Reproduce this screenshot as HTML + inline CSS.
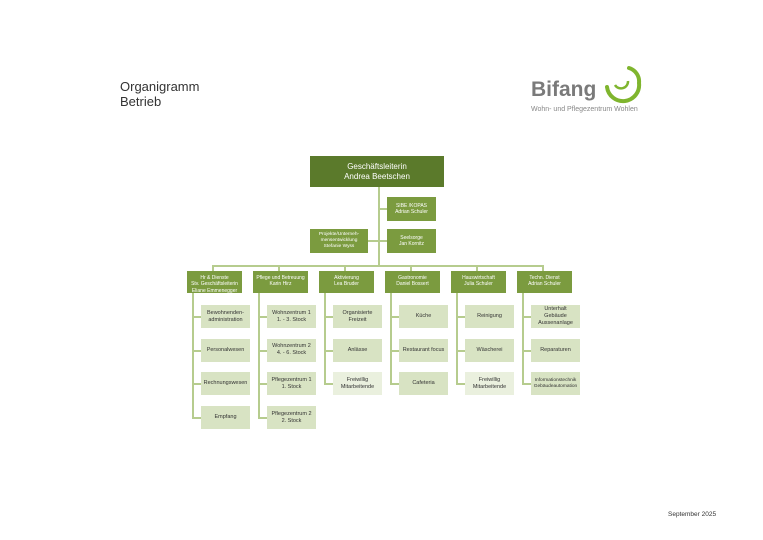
<!DOCTYPE html>
<html><head><meta charset="utf-8"><style>
body{margin:0;width:763px;height:540px;background:#fff;position:relative;overflow:hidden;font-family:"Liberation Sans",sans-serif}
.a{position:absolute}
.b{position:absolute;display:flex;align-items:center;justify-content:center;text-align:center;line-height:1.25}
.d{background:#5b7a2b;color:#fff}
.m{background:#7b9b3f;color:#fff;font-size:5px;align-items:flex-start;padding-top:4px;box-sizing:border-box}
.s{background:#7b9b3f;color:#fff;font-size:5px}
.c{background:#d8e3c3;color:#333;font-size:5.5px}
.f{background:#eaf0de;color:#333;font-size:5.5px}
.l{position:absolute;background:#b6cc8e}
</style></head><body>
<div class="a" style="left:120px;top:79px;font-size:13px;color:#333;line-height:15px">Organigramm<br>Betrieb</div>
<div class="a" style="left:531px;top:78px;font-size:21px;font-weight:bold;color:#7a7a7a">Bifang</div>
<svg class="a" style="left:601px;top:65px" width="42" height="40" viewBox="0 0 42 40"><path d="M6 22 A16 16 0 0 0 38 18 A14 14 0 0 0 28 3" fill="none" stroke="#7fb52e" stroke-width="4" stroke-linecap="round"/><path d="M14 20 A7 7 0 0 0 27 16" fill="none" stroke="#7fb52e" stroke-width="2.5"/></svg>
<div class="a" style="left:531px;top:106px;font-size:7px;color:#888">Wohn- und Pflegezentrum Wohlen</div>
<div class="a" style="left:668px;top:511px;font-size:6.5px;color:#333">September 2025</div>

<div class="l" style="left:378px;top:187px;width:2px;height:80px"></div>
<div class="l" style="left:380px;top:208px;width:7px;height:2px"></div>
<div class="l" style="left:380px;top:240px;width:7px;height:2px"></div>
<div class="l" style="left:368px;top:240px;width:10px;height:2px"></div>
<div class="l" style="left:212px;top:265px;width:332px;height:2px"></div>

<div class="b d" style="left:310px;top:156px;width:134px;height:31px;font-size:8px">Geschäftsleiterin<br>Andrea Beetschen</div>
<div class="b s" style="left:387px;top:197px;width:49px;height:24px">SIBE /KOPAS<br>Adrian Schuler</div>
<div class="b s" style="left:387px;top:229px;width:49px;height:24px">Seelsorge<br>Jan Kornitz</div>
<div class="b s" style="left:310px;top:229px;width:58px;height:24px;font-size:4.8px">Projekte/Unterneh-<br>mensentwicklung<br>Stefanie Wyss</div>

<div id="org"></div>
<script>
const depts=[["Hr & Dienste<br>Stv. Geschäftsleiterin<br>Eliane Emmenegger",["Bewohnenden-<br>administration","Personalwesen","Rechnungswesen","Empfang"]],
["Pflege und Betreuung<br>Karin Hirz",["Wohnzentrum 1<br>1. - 3. Stock","Wohnzentrum 2<br>4. - 6. Stock","Pflegezentrum 1<br>1. Stock","Pflegezentrum 2<br>2. Stock"]],
["Aktivierung<br>Lea Bruder",["Organisierte<br>Freizeit","Anlässe","*Freiwillig<br>Mitarbeitende"]],
["Gastronomie<br>Daniel Bossert",["Küche","Restaurant focus","Cafeteria"]],
["Hauswirtschaft<br>Julia Schuler",["Reinigung","Wäscherei","*Freiwillig<br>Mitarbeitende"]],
["Techn. Dienst<br>Adrian Schuler",["Unterhalt<br>Gebäude<br>Aussenanlage","Reparaturen","Informationstechnik<br>Gebäudeautomation"]]];
let h="";
depts.forEach((d,i)=>{const x=187+i*66;
h+=`<div class="l" style="left:${x+25}px;top:266px;width:2px;height:5px"></div>`;
h+=`<div class="b m" style="left:${x}px;top:271px;width:55px;height:22px">${d[0]}</div>`;
const n=d[1].length;const lx=x+5;
h+=`<div class="l" style="left:${lx}px;top:293px;width:2px;height:${(n-1)*33.7+24}px"></div>`;
d[1].forEach((c,j)=>{const y=305+j*33.7;const fr=c[0]=="*";
h+=`<div class="l" style="left:${lx}px;top:${y+11}px;width:${x+14-lx}px;height:2px"></div>`;
h+=`<div class="b ${fr?'f':'c'}" style="left:${x+14}px;top:${y}px;width:49px;height:23px${c.includes('Informations')?';font-size:4.8px':''}">${fr?c.slice(1):c}</div>`;});
});
document.getElementById("org").innerHTML=h;
</script>
</body></html>
